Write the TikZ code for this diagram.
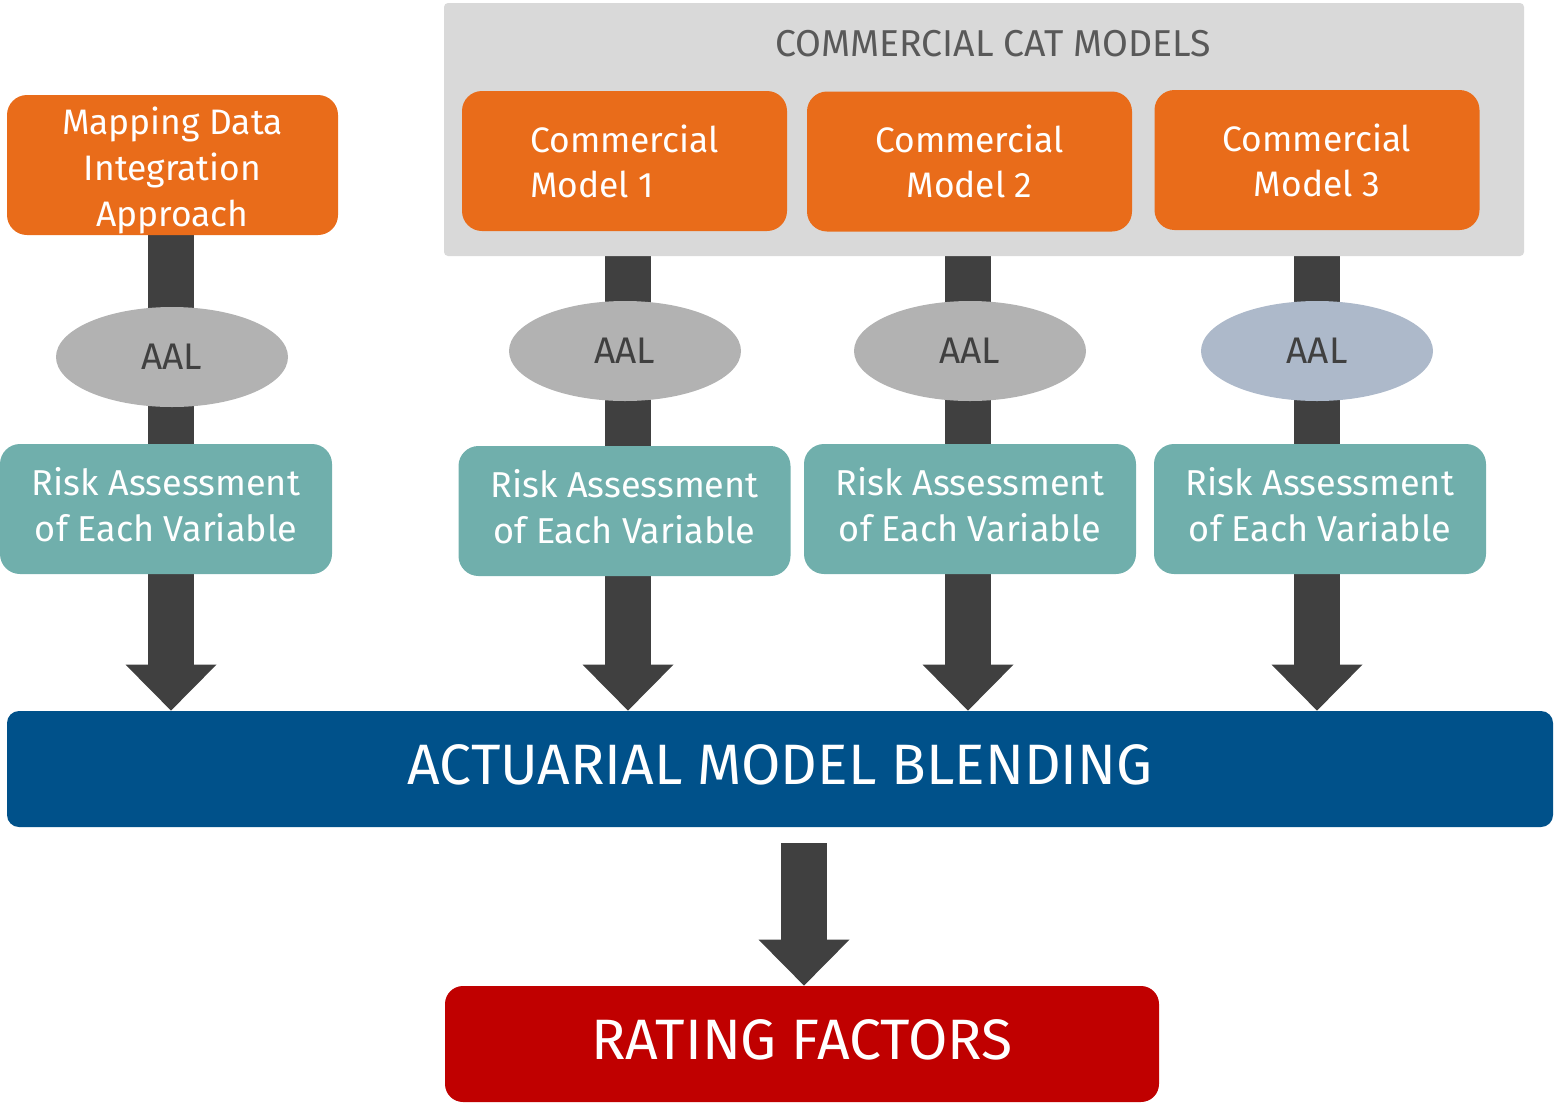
\documentclass[tikz,border=0pt]{standalone}
\usepackage{fontspec}
\setmainfont{Fira Sans}
\usetikzlibrary{arrows.meta,shapes.geometric}
\definecolor{orng}{HTML}{E96C1A}
\definecolor{catgrey}{HTML}{D9D9D9}
\definecolor{shaftc}{HTML}{404040}
\definecolor{aalgrey}{HTML}{B2B2B2}
\definecolor{aalblue}{HTML}{ADB9CA}
\definecolor{tealc}{HTML}{70AFAC}
\definecolor{blendc}{HTML}{00518A}
\definecolor{redc}{HTML}{C00000}
\definecolor{titlec}{HTML}{595959}
\pgfdeclarelayer{back}
\pgfsetlayers{back,main}
\begin{document}
\begin{tikzpicture}[x=0.5pt,y=-0.5pt,
  catbox/.style={fill=catgrey, rounded corners=2pt, minimum width=540pt, minimum height=126.5pt, inner sep=0pt},
  cattext/.style={text=titlec, font=\fontsize{18.7}{21}\selectfont},
  orangebox/.style={fill=orng, rounded corners=10pt, text=white, minimum width=162.5pt, minimum height=70pt, align=center, font=\fontsize{17.7}{22.5}\selectfont, inner sep=0pt},
  aal/.style={ellipse, fill=aalgrey, minimum width=116pt, minimum height=50pt, inner sep=0pt, text=shaftc, font=\fontsize{18.5}{20}\selectfont},
  tealbox/.style={fill=tealc, rounded corners=10pt, text=white, minimum width=166pt, minimum height=65pt, align=center, font=\fontsize{18}{22.5}\selectfont, inner sep=0pt},
  bigarrow/.style={draw=shaftc, fill=shaftc, line width=23pt, -{Triangle[width=45.5pt,length=23pt,line width=0pt]}},
  blendbox/.style={fill=blendc, rounded corners=6pt, text=white, minimum width=773pt, minimum height=58pt, inner sep=0pt, font=\fontsize{28.5}{30}\selectfont},
  ratingbox/.style={fill=redc, rounded corners=9pt, text=white, minimum width=357pt, minimum height=58pt, inner sep=0pt, font=\fontsize{28.5}{30}\selectfont}
]
\useasboundingbox (0,0) rectangle (1558,1103);

\node[catbox] (catbg) at (984,129.5) {};
\node[cattext] (cattitle) at (993,44) {COMMERCIAL CAT MODELS};

\node[orangebox, minimum width=165.5pt] (map) at (172.5,165) {\raisebox{-3pt}[\height][\depth]{\begin{tabular}{@{}c@{}}Mapping Data\\[0.5pt]Integration\\[0.5pt]Approach\end{tabular}}};
\node[orangebox, align=left] (cm1) at (624.5,161) {Commercial\\Model 1};
\node[orangebox] (cm2) at (969.5,161.5) {Commercial\\Model 2};
\node[orangebox] (cm3) at (1317,160) {Commercial\\Model 3};

\node[aal] (aal1) at (172,357) {AAL};
\node[aal] (aal2) at (625,351) {AAL};
\node[aal] (aal3) at (970,351) {AAL};
\node[aal, fill=aalblue] (aal4) at (1317,351) {AAL};

\node[tealbox] (risk1) at (166,509) {\begin{tabular}{@{}c@{}}Risk Assessment\\[0.5pt]of Each Variable\end{tabular}};
\node[tealbox] (risk2) at (624.5,511) {\begin{tabular}{@{}c@{}}Risk Assessment\\[0.5pt]of Each Variable\end{tabular}};
\node[tealbox] (risk3) at (970,509) {\begin{tabular}{@{}c@{}}Risk Assessment\\[0.5pt]of Each Variable\end{tabular}};
\node[tealbox] (risk4) at (1320,509) {\begin{tabular}{@{}c@{}}Risk Assessment\\[0.5pt]of Each Variable\end{tabular}};

\node[blendbox] (blend) at (780,769) {\raisebox{2pt}[\height][\depth]{ACTUARIAL MODEL BLENDING}};
\node[ratingbox] (rating) at (802,1044) {\raisebox{2pt}[\height][\depth]{RATING FACTORS}};

\begin{pgfonlayer}{back}
  \draw[bigarrow] ([xshift=-0.75pt]map.south) -- ([xshift=-0.75pt]map.south |- blend.north);
  \draw[bigarrow] ([xshift=1.75pt]cm1.south) -- ([xshift=1.75pt]cm1.south |- blend.north);
  \draw[bigarrow] ([xshift=-0.75pt]cm2.south) -- ([xshift=-0.75pt]cm2.south |- blend.north);
  \draw[bigarrow] (cm3.south) -- (cm3.south |- blend.north);
\end{pgfonlayer}
\draw[bigarrow] ([xshift=12pt,yshift=-8pt]blend.south) -- ([xshift=1pt]rating.north);
\end{tikzpicture}
\end{document}
